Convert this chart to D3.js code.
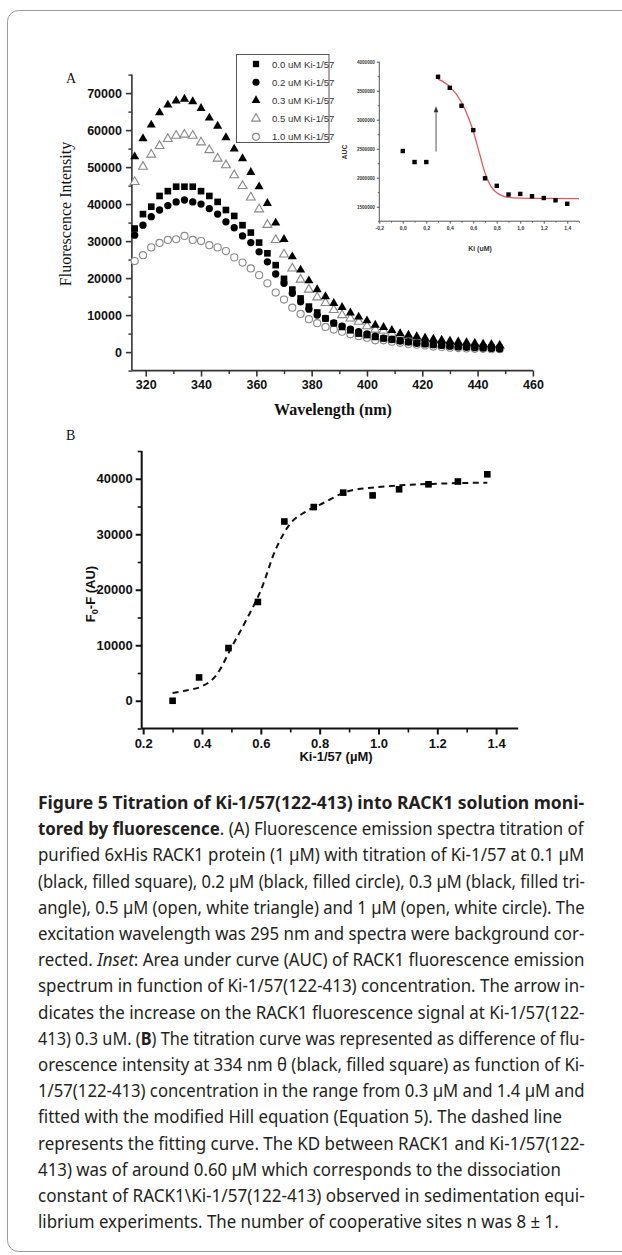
<!DOCTYPE html>
<html><head><meta charset="utf-8">
<script src="https://cdn.jsdelivr.net/npm/d3@7"></script>
<style>body{margin:0;background:#fff}svg{display:block}</style>
</head><body>
<svg id="c" width="622" height="1255"></svg>
<script>
// ---------- Panel A: emission spectra ----------
const wavelengths = [316,319,322,325,328,331,334,337,340,343,346,349,352,355,358,361,364,367,370,373,376,379,382,385,388,391,394,397,400,403,406,409,412,415,418,421,424,427,430,433,436,439,442,445,448];
const conc00 = [33400,37300,39300,42200,43500,44700,44700,44700,43500,42200,40600,38400,36800,34300,32300,29600,26700,23500,19800,16900,14500,12300,10700,9100,7800,6800,5900,5000,4600,4100,3700,3400,3100,2800,2500,2300,2100,1900,1700,1600,1500,1400,1300,1200,1100];
const conc02 = [31600,34300,36600,38400,39600,40600,41100,40600,40000,38800,37300,35200,33600,31400,29600,27100,24400,21100,18600,15900,13600,11600,10000,9100,7900,7000,6200,5500,4900,4300,3800,3400,3000,2700,2400,2200,2000,1800,1600,1400,1300,1200,1100,1000,900];
const conc03 = [52800,57700,61400,64700,66800,67900,68400,67700,65900,63300,61100,58000,54900,52300,48600,44700,40200,34900,30500,25800,22200,19300,16900,15000,13200,12100,10600,9500,8500,7300,6700,5900,5000,4600,4200,3800,3500,3200,2900,2700,2500,2300,2100,2000,1800];
const conc05 = [46000,50100,53400,55700,57600,58500,58800,58500,56700,54600,52300,50500,47800,44900,41800,38600,34400,30300,26400,22600,19600,16900,14800,13300,11400,10000,9100,8200,7000,6100,5800,5000,4600,4200,3800,3500,3200,3000,2800,2600,2400,2200,2000,1900,1700];
const conc10 = [24600,26200,28300,29500,30300,30500,31400,30300,30000,28900,28300,27300,25600,24200,22600,20800,18600,16100,14200,12000,10300,8900,7800,6800,6100,5500,4800,4300,3900,3200,3200,2800,2500,2200,2000,1800,1500,1400,1200,1100,1000,900,900,800,800];
const legendLabels = ["0.0 uM Ki-1/57","0.2 uM Ki-1/57","0.3 uM Ki-1/57","0.5 uM Ki-1/57","1.0 uM Ki-1/57"];
const xTicksA = [320,340,360,380,400,420,440,460];
const yTicksA = [0,10000,20000,30000,40000,50000,60000,70000];

// ---------- Inset ----------
const insetKi  = [0.0,0.1,0.2,0.3,0.4,0.5,0.6,0.7,0.8,0.9,1.0,1.1,1.2,1.3,1.4];
const insetAUC = [2460000,2270000,2270000,3740000,3550000,3240000,2820000,1990000,1860000,1710000,1720000,1680000,1650000,1610000,1550000];
const insetFitKi  = [0.30,0.40,0.50,0.55,0.60,0.65,0.70,0.75,0.80,0.85,0.90,1.00,1.20,1.50];
const insetFitAUC = [3700000,3570000,3300000,3080000,2800000,2440000,2080000,1850000,1740000,1685000,1660000,1648000,1642000,1640000];
const arrowKi  = [0.283,0.283];
const arrowAUC = [2450000,3230000];
const insetXTicks = [-0.2,0.0,0.2,0.4,0.6,0.8,1.0,1.2,1.4];
const insetYTicks = [1500000,2000000,2500000,3000000,3500000,4000000];

// ---------- Panel B ----------
const kiB = [0.30,0.39,0.49,0.59,0.68,0.78,0.88,0.98,1.07,1.17,1.27,1.37];
const dfB = [0,4200,9500,17800,32300,34900,37500,37000,38100,39000,39500,40800];
const fitKiB = [0.30,0.35,0.40,0.45,0.50,0.55,0.60,0.65,0.70,0.75,0.80,0.90,1.00,1.10,1.20,1.30,1.37];
const fitDfB = [1400,1900,2600,4700,9600,14500,19900,27200,31900,34000,35300,37800,38500,38900,39100,39250,39300];
const xTicksB = [0.2,0.4,0.6,0.8,1.0,1.2,1.4];
const yTicksB = [0,10000,20000,30000,40000];

// ---------- Caption ----------
const captionLines = [
  [["Figure 5 Titration of Ki-1/57(122-413) into RACK1 solution moni-","b"]],
  [["tored by fluorescence","b"],[". (A) Fluorescence emission spectra titration of","n"]],
  [["purified 6xHis RACK1 protein (1 µM) with titration of Ki-1/57 at 0.1 µM","n"]],
  [["(black, filled square), 0.2 µM (black, filled circle), 0.3 µM (black, filled tri-","n"]],
  [["angle), 0.5 µM (open, white triangle) and 1 µM (open, white circle). The","n"]],
  [["excitation wavelength was 295 nm and spectra were background cor-","n"]],
  [["rected. ","n"],["Inset","i"],[": Area under curve (AUC) of RACK1 fluorescence emission","n"]],
  [["spectrum in function of Ki-1/57(122-413) concentration. The arrow in-","n"]],
  [["dicates the increase on the RACK1 fluorescence signal at Ki-1/57(122-","n"]],
  [["413) 0.3 uM. (","n"],["B","b"],[") The titration curve was represented as difference of flu-","n"]],
  [["orescence intensity at 334 nm θ (black, filled square) as function of Ki-","n"]],
  [["1/57(122-413) concentration in the range from 0.3 µM and 1.4 µM and","n"]],
  [["fitted with the modified Hill equation (Equation 5). The dashed line","n"]],
  [["represents the fitting curve. The KD between RACK1 and Ki-1/57(122-","n"]],
  [["413) was of around 0.60 µM which corresponds to the dissociation","n"]],
  [["constant of RACK1\\Ki-1/57(122-413) observed in sedimentation equi-","n"]],
  [["librium experiments. The number of cooperative sites n was 8 ± 1.","n"]]
];
const raggedLines = [12,14,16];

const svg = d3.select("#c");
const SANS = "'Liberation Sans', Arial, sans-serif";
const SERIF = "'Liberation Serif', 'Times New Roman', serif";

// frame
svg.append("rect").attr("x",7.5).attr("y",10.5).attr("width",660).attr("height",1241)
  .attr("rx",11).attr("fill","none").attr("stroke","#999").attr("stroke-width",1);

function styleAxis(g, color, width, fsize, font, weight){
  g.select(".domain").attr("stroke",color).attr("stroke-width",width);
  g.selectAll(".tick line").attr("stroke",color).attr("stroke-width",width);
  g.selectAll(".tick text").attr("fill","#111").attr("font-size",fsize).attr("font-family",font).attr("font-weight",weight);
}
function minorTicks(lo,hi,step,majors){
  const out=[];
  for(let v=lo; v<=hi+1e-9; v+=step){
    const r=Math.round(v*1e6)/1e6;
    if(!majors.some(m=>Math.abs(m-r)<1e-9)) out.push(r);
  }
  return out;
}

// ================= Panel A =================
const xA = d3.scaleLinear().domain([315,460]).range([131.9,532.9]);
const yA = d3.scaleLinear().domain([-5000,75000]).range([370.6,74.6]);

svg.append("text").attr("x",66).attr("y",83).attr("font-family",SERIF).attr("font-size",14).attr("fill","#111").text("A");

const gxA = svg.append("g").attr("transform",`translate(0,${yA(-5000)})`)
  .call(d3.axisBottom(xA).tickValues(xTicksA).tickSize(6).tickPadding(4).tickFormat(d3.format("d")));
styleAxis(gxA,"#333",1.6,12.5,SANS,"bold");
gxA.select(".domain").attr("d",`M${xA(315)},0H${xA(460)}`);
const gxAm = svg.append("g").attr("transform",`translate(0,${yA(-5000)})`)
  .call(d3.axisBottom(xA).tickValues(minorTicks(320,460,10,xTicksA)).tickSize(3.5).tickFormat(""));
gxAm.select(".domain").remove();
gxAm.selectAll(".tick line").attr("stroke","#333").attr("stroke-width",1.4);

const gyA = svg.append("g").attr("transform",`translate(${xA(315)},0)`)
  .call(d3.axisLeft(yA).tickValues(yTicksA).tickSize(6).tickPadding(4).tickFormat(d3.format("d")));
styleAxis(gyA,"#333",1.6,12.5,SANS,"bold");
gyA.select(".domain").attr("d",`M0,${yA(75000)}V${yA(-5000)}`);
const gyAm = svg.append("g").attr("transform",`translate(${xA(315)},0)`)
  .call(d3.axisLeft(yA).tickValues(minorTicks(-5000,75000,5000,yTicksA)).tickSize(3.5).tickFormat(""));
gyAm.select(".domain").remove();
gyAm.selectAll(".tick line").attr("stroke","#333").attr("stroke-width",1.4);

svg.append("text").attr("x",333).attr("y",415).attr("text-anchor","middle")
  .attr("font-family",SERIF).attr("font-size",16).attr("font-weight","bold").attr("fill","#111").text("Wavelength (nm)");
svg.append("text").attr("transform","translate(71,214) rotate(-90)").attr("text-anchor","middle")
  .attr("font-family",SERIF).attr("font-size",16).attr("fill","#111").text("Fluorescence Intensity");

const seriesA = [
  {vals:conc10, sym:d3.symbolCircle,   size:40, fill:"#fff", stroke:"#888"},
  {vals:conc05, sym:d3.symbolTriangle, size:34, fill:"#fff", stroke:"#888"},
  {vals:conc00, sym:d3.symbolSquare,   size:44, fill:"#000", stroke:"none"},
  {vals:conc02, sym:d3.symbolCircle,   size:42, fill:"#000", stroke:"none"},
  {vals:conc03, sym:d3.symbolTriangle, size:36, fill:"#000", stroke:"none"}
];
seriesA.forEach(s=>{
  svg.append("g").selectAll("path").data(wavelengths.map((w,i)=>[w,s.vals[i]])).join("path")
    .attr("transform",d=>`translate(${xA(d[0])},${yA(d[1])})`)
    .attr("d",d3.symbol().type(s.sym).size(s.size))
    .attr("fill",s.fill).attr("stroke",s.stroke).attr("stroke-width",1.1);
});

// legend
const legSyms = [
  {sym:d3.symbolSquare,size:40,fill:"#000",stroke:"none"},
  {sym:d3.symbolCircle,size:40,fill:"#000",stroke:"none"},
  {sym:d3.symbolTriangle,size:34,fill:"#000",stroke:"none"},
  {sym:d3.symbolTriangle,size:32,fill:"#fff",stroke:"#888"},
  {sym:d3.symbolCircle,size:36,fill:"#fff",stroke:"#888"}
];
svg.append("rect").attr("x",236.5).attr("y",54.5).attr("width",92.5).attr("height",88)
  .attr("fill","#fff").attr("stroke","#555").attr("stroke-width",1);
legendLabels.forEach((t,i)=>{
  const y = 64 + i*18.2;
  svg.append("path").attr("transform",`translate(256,${y})`)
    .attr("d",d3.symbol().type(legSyms[i].sym).size(legSyms[i].size))
    .attr("fill",legSyms[i].fill).attr("stroke",legSyms[i].stroke).attr("stroke-width",1.1);
  svg.append("text").attr("x",272).attr("y",y+3.5).attr("font-family",SANS).attr("font-size",9.6)
    .attr("fill","#333").text(t);
});

// ================= Inset =================
const xI = d3.scaleLinear().domain([-0.2,1.5]).range([379.3,579]);
const yI = d3.scaleLinear().domain([1250000,4000000]).range([221.2,61.7]);
const commaFmt = d=>d3.format(".1f")(d).replace(".",",").replace("−","-");
const gxI = svg.append("g").attr("transform",`translate(0,${yI(1250000)})`)
  .call(d3.axisBottom(xI).tickValues(insetXTicks).tickSize(2.5).tickPadding(3).tickFormat(commaFmt));
styleAxis(gxI,"#444",0.9,5,SANS,"bold");
gxI.selectAll(".tick text").attr("fill","#333");
gxI.select(".domain").attr("d",`M${xI(-0.2)},0H${xI(1.5)}`);
const gxIm = svg.append("g").attr("transform",`translate(0,${yI(1250000)})`)
  .call(d3.axisBottom(xI).tickValues(minorTicks(-0.1,1.5,0.2,[])).tickSize(1.5).tickFormat(""));
gxIm.select(".domain").remove();
gxIm.selectAll(".tick line").attr("stroke","#444").attr("stroke-width",0.8);

const gyI = svg.append("g").attr("transform",`translate(${xI(-0.2)},0)`)
  .call(d3.axisLeft(yI).tickValues(insetYTicks).tickSize(2.5).tickPadding(2).tickFormat(d3.format("d")));
styleAxis(gyI,"#444",0.9,4.6,SANS,"bold");
gyI.selectAll(".tick text").attr("fill","#333");
gyI.select(".domain").attr("d",`M0,${yI(4000000)}V${yI(1250000)}`);
const gyIm = svg.append("g").attr("transform",`translate(${xI(-0.2)},0)`)
  .call(d3.axisLeft(yI).tickValues(minorTicks(1250000,3750000,500000,[])).tickSize(1.5).tickFormat(""));
gyIm.select(".domain").remove();
gyIm.selectAll(".tick line").attr("stroke","#444").attr("stroke-width",0.8);

svg.append("text").attr("transform","translate(347,152) rotate(-90)").attr("text-anchor","middle")
  .attr("font-family",SANS).attr("font-size",7).attr("font-weight","bold").attr("fill","#333").text("AUC");
svg.append("text").attr("x",480).attr("y",251).attr("text-anchor","middle")
  .attr("font-family",SANS).attr("font-size",7).attr("font-weight","bold").attr("fill","#333").text("Ki (uM)");

svg.append("path").datum(insetFitKi.map((k,i)=>[k,insetFitAUC[i]]))
  .attr("d",d3.line().x(d=>xI(d[0])).y(d=>yI(d[1])).curve(d3.curveMonotoneX))
  .attr("fill","none").attr("stroke","#e8555f").attr("stroke-width",1.3);
svg.append("g").selectAll("rect").data(insetKi.map((k,i)=>[k,insetAUC[i]])).join("rect")
  .attr("x",d=>xI(d[0])-2.2).attr("y",d=>yI(d[1])-2.2).attr("width",4.4).attr("height",4.4).attr("fill","#000");
// arrow
const ax = xI(arrowKi[0]), ay0 = yI(arrowAUC[0]), ay1 = yI(arrowAUC[1]);
svg.append("line").attr("x1",ax).attr("x2",xI(arrowKi[1])).attr("y1",ay0).attr("y2",ay1+4)
  .attr("stroke","#555").attr("stroke-width",1);
svg.append("path").attr("d",`M${ax},${ay1} L${ax-2.3},${ay1+6} L${ax+2.3},${ay1+6} Z`).attr("fill","#333");

// ================= Panel B =================
const xB = d3.scaleLinear().domain([0.195,1.475]).range([141.7,518.2]);
const yB = d3.scaleLinear().domain([-5000,45000]).range([728.5,451.0]);

svg.append("text").attr("x",66).attr("y",440).attr("font-family",SERIF).attr("font-size",14).attr("fill","#111").text("B");

const gxB = svg.append("g").attr("transform",`translate(0,${yB(-5000)})`)
  .call(d3.axisBottom(xB).tickValues(xTicksB).tickSize(6).tickPadding(4).tickFormat(d3.format(".1f")));
styleAxis(gxB,"#111",2,13,SANS,"bold");
gxB.select(".domain").attr("d",`M${xB(0.195)},0H${xB(1.475)}`);
const gxBm = svg.append("g").attr("transform",`translate(0,${yB(-5000)})`)
  .call(d3.axisBottom(xB).tickValues(minorTicks(0.3,1.4,0.2,[])).tickSize(4).tickFormat(""));
gxBm.select(".domain").remove();
gxBm.selectAll(".tick line").attr("stroke","#111").attr("stroke-width",1.6);

const gyB = svg.append("g").attr("transform",`translate(${xB(0.195)},0)`)
  .call(d3.axisLeft(yB).tickValues(yTicksB).tickSize(6).tickPadding(3).tickFormat(d3.format("d")));
styleAxis(gyB,"#111",2,13,SANS,"bold");
gyB.select(".domain").attr("d",`M0,${yB(45000)}V${yB(-5000)}`);
const gyBm = svg.append("g").attr("transform",`translate(${xB(0.195)},0)`)
  .call(d3.axisLeft(yB).tickValues(minorTicks(-5000,45000,10000,[])).tickSize(4).tickFormat(""));
gyBm.select(".domain").remove();
gyBm.selectAll(".tick line").attr("stroke","#111").attr("stroke-width",1.6);

svg.append("text").attr("x",336).attr("y",761).attr("text-anchor","middle")
  .attr("font-family",SANS).attr("font-size",13).attr("font-weight","bold").attr("fill","#111").text("Ki-1/57 (µM)");
const yt = svg.append("text").attr("transform","translate(95,594) rotate(-90)").attr("text-anchor","middle")
  .attr("font-family",SANS).attr("font-size",13).attr("font-weight","bold").attr("fill","#111");
yt.append("tspan").text("F");
yt.append("tspan").attr("font-size",9).attr("dy",3).text("0");
yt.append("tspan").attr("dy",-3).text("-F (AU)");

svg.append("path").datum(fitKiB.map((k,i)=>[k,fitDfB[i]]))
  .attr("d",d3.line().x(d=>xB(d[0])).y(d=>yB(d[1])).curve(d3.curveMonotoneX))
  .attr("fill","none").attr("stroke","#111").attr("stroke-width",2).attr("stroke-dasharray","6,4.5");
svg.append("g").selectAll("rect").data(kiB.map((k,i)=>[k,dfB[i]])).join("rect")
  .attr("x",d=>xB(d[0])-3.3).attr("y",d=>yB(d[1])-3.3).attr("width",6.6).attr("height",6.6).attr("fill","#000");

// ================= Caption =================
const CAP = "'Noto Sans', 'Open Sans', sans-serif";
const capX = 38, capW = 547, capY0 = 809, capDy = 26.2;
const nodes = [];
captionLines.forEach((segs,i)=>{
  const t = svg.append("text").attr("x",0).attr("y",0)
    .attr("font-family",CAP).attr("font-size",17.5).attr("fill","#231f20");
  segs.forEach(([txt,st])=>{
    const ts = t.append("tspan").text(txt);
    if(st==="b") ts.attr("font-weight","bold");
    if(st==="i") ts.attr("font-style","italic");
  });
  nodes.push(t);
});
const widths = nodes.map(t=>t.node().getBBox().width);
const scales = widths.map(w=>capW/w);
const justScales = scales.filter((s,i)=>!raggedLines.includes(i)).sort((a,b)=>a-b);
const medScale = justScales[Math.floor(justScales.length/2)];
nodes.forEach((t,i)=>{
  const s = raggedLines.includes(i) ? medScale : scales[i];
  t.attr("transform",`translate(${capX},${capY0+i*capDy}) scale(${s},1)`);
});
</script>
</body></html>
